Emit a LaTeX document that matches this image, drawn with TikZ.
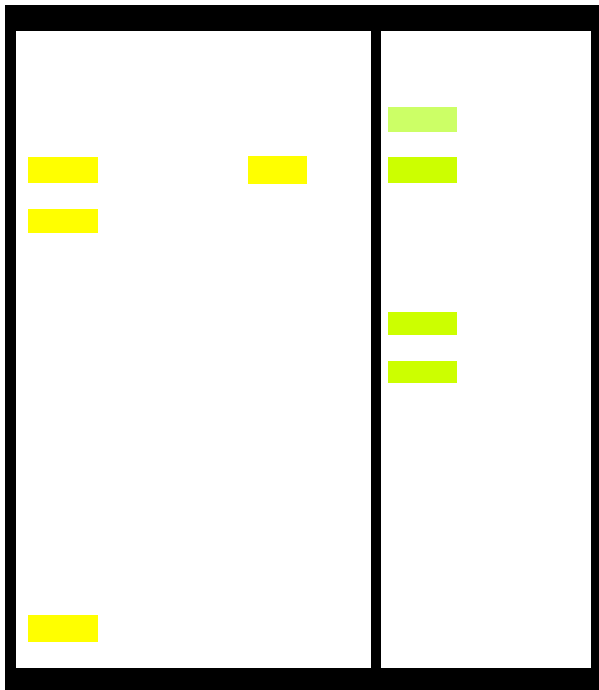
\documentclass[tikz,border=0pt]{standalone}
\usepackage{xcolor}

\begin{document}
\begin{tikzpicture}[
    x=1pt, y=-1pt
]

\definecolor{ladcol}{RGB}{255,255,0}
\definecolor{fadecol}{RGB}{204,255,102}
\definecolor{limecol}{RGB}{204,255,0}

\useasboundingbox (0,0) rectangle (599,690);

% gel frame
\fill[black] (5,5) rectangle (599,690);
\fill[white] (16,31) rectangle (371,668);
\fill[white] (381,31) rectangle (591,668);

% left gel
\fill[ladcol] (28,157) rectangle (98,183);
\fill[ladcol] (28,209) rectangle (98,233);
\fill[ladcol] (28,615) rectangle (98,642);

\fill[ladcol] (248,156) rectangle (307,184);

% right gel
\fill[fadecol] (388,107) rectangle (457,132);
\fill[limecol] (388,157) rectangle (457,183);
\fill[limecol] (388,312) rectangle (457,335);
\fill[limecol] (388,361) rectangle (457,383);

\end{tikzpicture}
\end{document}
